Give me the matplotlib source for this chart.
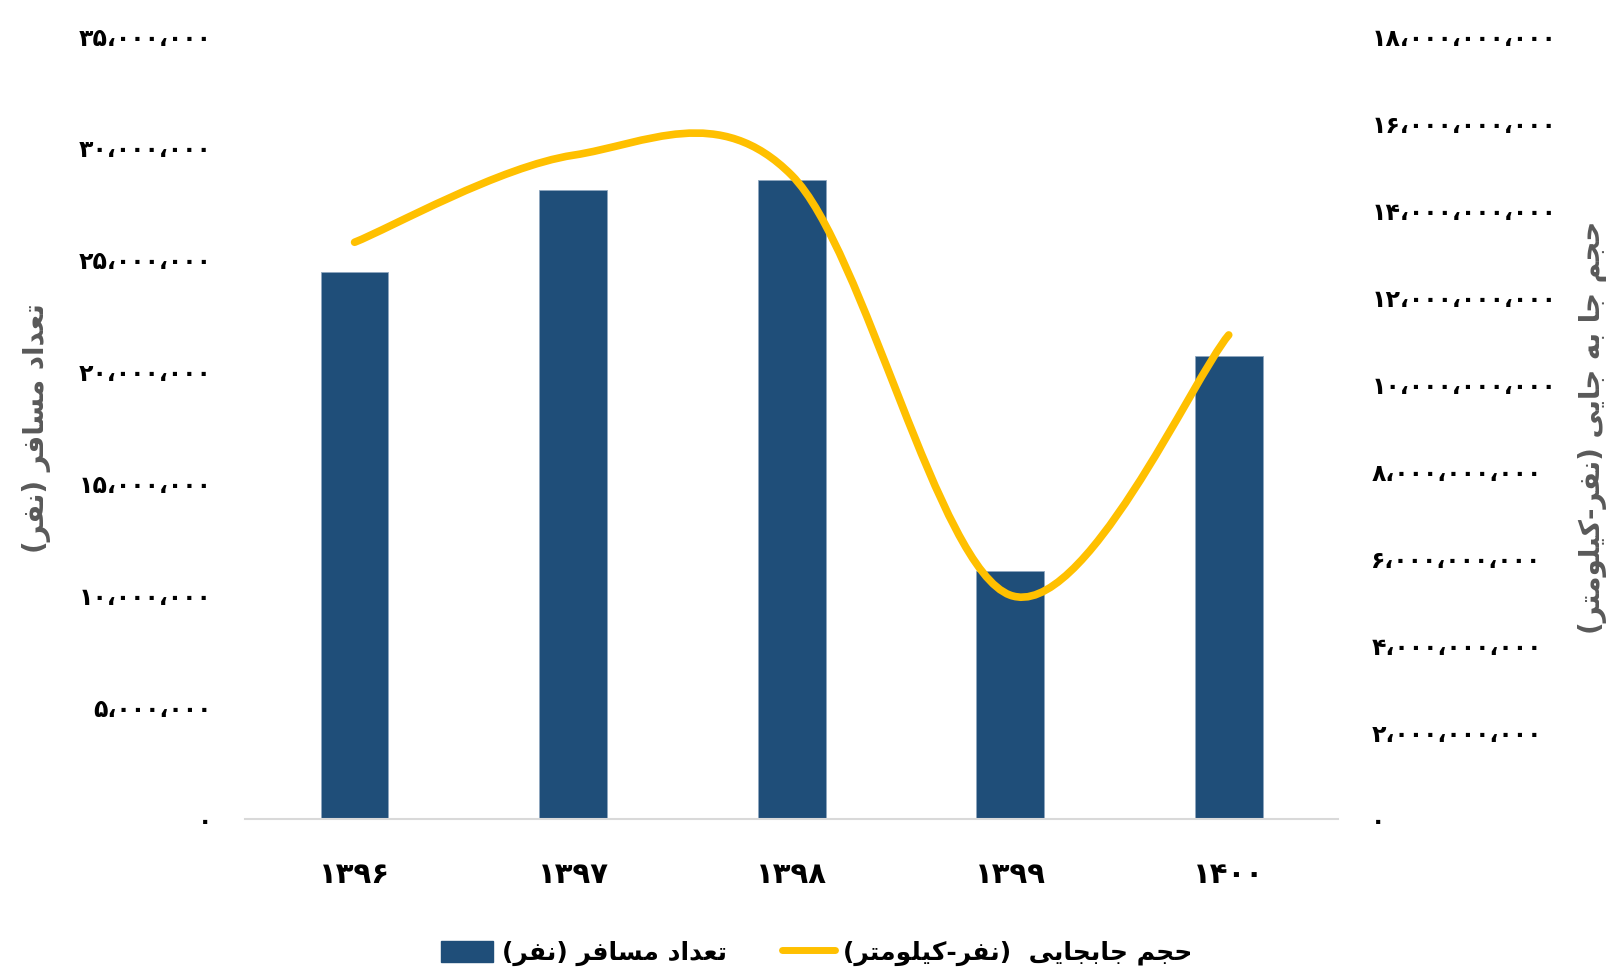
import matplotlib
matplotlib.use("Agg")
import matplotlib.pyplot as plt
from matplotlib.path import Path
from matplotlib.patches import PathPatch
from matplotlib.lines import Line2D
from matplotlib.ticker import FuncFormatter
import numpy as np

# data
years = ['۱۳۹۶', '۱۳۹۷', '۱۳۹۸', '۱۳۹۹', '۱۴۰۰']
passengers = [24.45e6, 28.1e6, 28.55e6, 11.1e6, 20.7e6]
passenger_km = [13.26e9, 15.26e9, 14.8e9, 5.15e9, 11.13e9]

left_label = 'تعداد مسافر (نفر)'
right_label = 'حجم جا به جایی (نفر-کیلومتر)'
bar_legend = 'تعداد مسافر (نفر)'
line_legend = 'حجم جابجایی  (نفر-کیلومتر)'

BAR_COLOR = '#1F4E79'
LINE_COLOR = '#FFC000'

# --- minimal Persian shaping (matplotlib has no bidi / joining) ---
FORMS = {  # isolated, final, initial, medial
    'ا': ('\uFE8D', '\uFE8E', None, None),
    'ب': ('\uFE8F', '\uFE90', '\uFE91', '\uFE92'),
    'ت': ('\uFE95', '\uFE96', '\uFE97', '\uFE98'),
    'ج': ('\uFE9D', '\uFE9E', '\uFE9F', '\uFEA0'),
    'ح': ('\uFEA1', '\uFEA2', '\uFEA3', '\uFEA4'),
    'د': ('\uFEA9', '\uFEAA', None, None),
    'ر': ('\uFEAD', '\uFEAE', None, None),
    'س': ('\uFEB1', '\uFEB2', '\uFEB3', '\uFEB4'),
    'ع': ('\uFEC9', '\uFECA', '\uFECB', '\uFECC'),
    'ف': ('\uFED1', '\uFED2', '\uFED3', '\uFED4'),
    'ل': ('\uFEDD', '\uFEDE', '\uFEDF', '\uFEE0'),
    'م': ('\uFEE1', '\uFEE2', '\uFEE3', '\uFEE4'),
    'ن': ('\uFEE5', '\uFEE6', '\uFEE7', '\uFEE8'),
    'ه': ('\uFEE9', '\uFEEA', '\uFEEB', '\uFEEC'),
    'و': ('\uFEED', '\uFEEE', None, None),
    'ی': ('\uFBFC', '\uFBFD', '\uFBFE', '\uFBFF'),
    'ک': ('\uFB8E', '\uFB8F', '\uFB90', '\uFB91'),
}
MIRROR = {'(': ')', ')': '('}


def fa(text):
    out = []
    for i, ch in enumerate(text):
        if ch not in FORMS:
            out.append(MIRROR.get(ch, ch))
            continue
        prev = text[i - 1] if i > 0 else ''
        nxt = text[i + 1] if i + 1 < len(text) else ''
        join_prev = prev in FORMS and FORMS[prev][2] is not None
        join_next = nxt in FORMS and FORMS[ch][2] is not None
        iso, fin, ini, med = FORMS[ch]
        if join_prev and join_next:
            out.append(med)
        elif join_prev:
            out.append(fin)
        elif join_next:
            out.append(ini)
        else:
            out.append(iso)
    return ''.join(reversed(out))


FA_DIGITS = str.maketrans('0123456789,', '۰۱۲۳۴۵۶۷۸۹،')


def fa_num(v, pos):
    return f'{int(round(v)):,}'.translate(FA_DIGITS)


plt.rcParams['font.family'] = ['DejaVu Sans']

fig = plt.figure(figsize=(16.14, 9.73), dpi=100)
ax = fig.add_axes([0.152, 0.158, 0.677, 0.805])
ax2 = ax.twinx()

x = np.arange(len(years))
ax.bar(x, passengers, width=0.31, color=BAR_COLOR, edgecolor='#8FA7BF', linewidth=0.6, zorder=2)

# smoothed line (Excel-style Catmull-Rom bezier through the data points)
px = x.astype(float)
py = np.array(passenger_km)
verts = [(px[0], py[0])]
codes = [Path.MOVETO]
n = len(px)
for i in range(n - 1):
    p0 = max(i - 1, 0)
    p3 = min(i + 2, n - 1)
    c1 = (px[i] + (px[i + 1] - px[p0]) / 6, py[i] + (py[i + 1] - py[p0]) / 6)
    c2 = (px[i + 1] - (px[p3] - px[i]) / 6, py[i + 1] - (py[p3] - py[i]) / 6)
    verts += [c1, c2, (px[i + 1], py[i + 1])]
    codes += [Path.CURVE4] * 3
ax2.add_patch(PathPatch(Path(verts, codes), fill=False, edgecolor=LINE_COLOR,
                        linewidth=5.5, capstyle='round', joinstyle='round'))

ax.set_xlim(-0.5, 4.5)
ax.set_ylim(0, 35e6)
ax2.set_ylim(0, 18e9)
ax.set_yticks(np.arange(0, 35e6 + 1, 5e6))
ax2.set_yticks(np.arange(0, 18e9 + 1, 2e9))
ax.yaxis.set_major_formatter(FuncFormatter(fa_num))
ax2.yaxis.set_major_formatter(FuncFormatter(fa_num))
ax.set_xticks(x)
ax.set_xticklabels(years)

ax.tick_params(axis='y', length=0, pad=24, labelsize=17)
ax2.tick_params(axis='y', length=0, pad=24, labelsize=17)
ax.tick_params(axis='x', length=0, pad=30, labelsize=21)
for lab in ax.get_yticklabels() + ax2.get_yticklabels() + ax.get_xticklabels():
    lab.set_fontweight('bold')

for a in (ax, ax2):
    for s in ('top', 'left', 'right', 'bottom'):
        a.spines[s].set_visible(False)
ax.spines['bottom'].set_visible(True)
ax.spines['bottom'].set_color('#D9D9D9')
ax.spines['bottom'].set_linewidth(1.5)

ax.set_ylabel(fa(left_label), fontsize=20, fontweight='bold', color='#595959', rotation=90)
ax.yaxis.set_label_coords(-0.178, 0.5)
ax2.set_ylabel(fa(right_label), fontsize=20, fontweight='bold', color='#595959', rotation=90)
ax2.yaxis.set_label_coords(1.2196, 0.5)

handles = [plt.Rectangle((0, 0), 1, 1, color=BAR_COLOR),
           Line2D([0], [0], color=LINE_COLOR, lw=5, solid_capstyle='round')]
fig.legend(handles, [fa(bar_legend), fa(line_legend)], loc='center',
           bbox_to_anchor=(0.506, 0.02), ncol=2, frameon=False,
           prop={'size': 18, 'weight': 'bold'}, handlelength=2.1,
           handleheight=0.95, columnspacing=2.2, handletextpad=0.35)

fig.savefig('out.png', dpi=100)
